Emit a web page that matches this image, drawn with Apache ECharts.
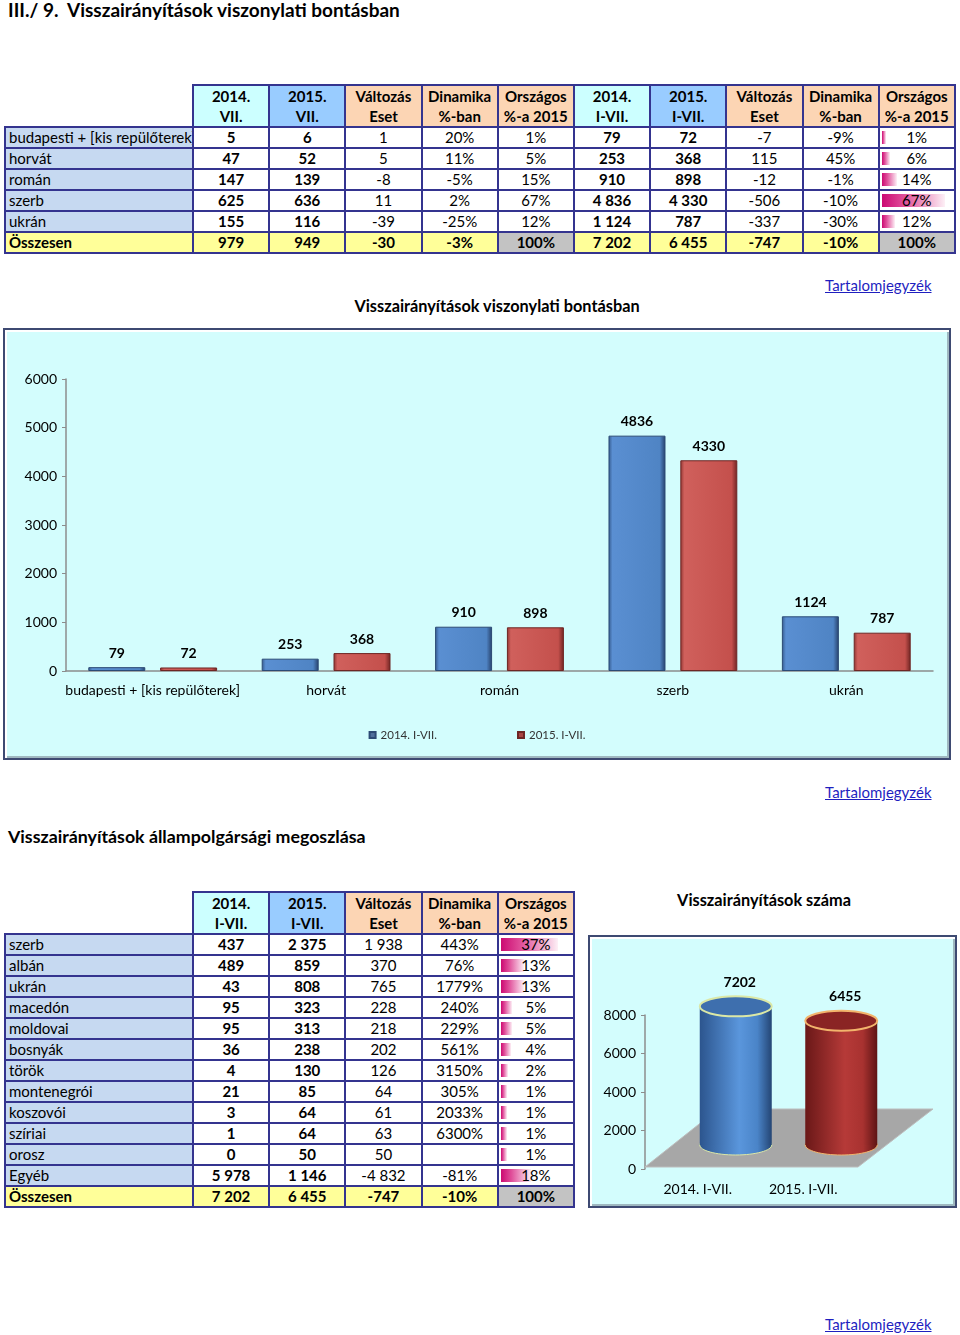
<!DOCTYPE html>
<html><head><meta charset="utf-8">
<script src="https://cdn.jsdelivr.net/npm/echarts@6/dist/echarts.min.js"></script>
<style>
html,body{margin:0;padding:0;background:#fff;}
body{width:960px;height:1335px;position:relative;overflow:hidden;font-family:Lato,"Open Sans",sans-serif;color:#000;}
.abs{position:absolute;}
.h1{left:8px;top:-2px;font-weight:bold;font-size:19px;white-space:nowrap;}
.h2{left:8px;top:825px;font-weight:bold;font-size:17.8px;white-space:nowrap;}
.ctitle{font-weight:bold;font-size:16.3px;white-space:nowrap;transform:translateX(-50%);}
.link{color:#1f1fbf;text-decoration:underline;font-size:15px;white-space:nowrap;}
table{border-collapse:collapse;table-layout:fixed;font-size:15px;}
td{border:2px solid #34348f;padding:0 3px;height:19px;line-height:19px;text-align:center;white-space:nowrap;overflow:hidden;position:relative;}
td.lab{text-align:left;background:#c6d9f1;}
td.hb{border:none;background:#fff;}
tr.hdr td{height:40px;line-height:20px;font-weight:bold;}
td.b{font-weight:bold;}
tr.tot td{font-weight:bold;background:#ffff99;}
tr.tot td.lab{background:#ffff99;}
tr.tot td.grey{background:#c3c3c3;}
.dbar{position:absolute;left:2px;top:3px;bottom:3px;}
.dtxt{position:relative;}
.box{border:2px solid #3e4a72;background:#d3fdfd;box-shadow:inset 2px 2px 0 #ffffff, inset -2px -2px 0 #9fb8c0;}
</style></head>
<body>
<div class="abs h1">III./ 9.&nbsp; Visszairányítások viszonylati bontásban</div>
<div class="abs" id="t1" style="left:4px;top:84px;"></div>
<div class="abs link" style="left:825px;top:276px;">Tartalomjegyzék</div>
<div class="abs ctitle" style="left:497px;top:296px;">Visszairányítások viszonylati bontásban</div>
<div class="abs box" style="left:3px;top:328px;width:944px;height:428px;"><div id="c1" style="width:944px;height:428px;"></div></div>
<div class="abs link" style="left:825px;top:783px;">Tartalomjegyzék</div>
<div class="abs h2">Visszairányítások állampolgársági megoszlása</div>
<div class="abs" id="t2" style="left:4px;top:891px;"></div>
<div class="abs ctitle" style="left:764px;top:890px;">Visszairányítások száma</div>
<div class="abs box" style="left:588px;top:935px;width:365px;height:269px;"><div id="c2" style="width:365px;height:269px;"></div></div>
<div class="abs link" style="left:825px;top:1315px;">Tartalomjegyzék</div>
<script>
// ---------- DATA: table 1 ----------
const regions = ['budapesti + [kis repülőterek]', 'horvát', 'román', 'szerb', 'ukrán'];
const jul2014 = [5, 47, 147, 625, 155];
const jul2015 = [6, 52, 139, 636, 116];
const julChange = [1, 5, -8, 11, -39];
const julDyn = [20, 11, -5, 2, -25];
const julShare = [1, 5, 15, 67, 12];
const ytd2014 = [79, 253, 910, 4836, 1124];
const ytd2015 = [72, 368, 898, 4330, 787];
const ytdChange = [-7, 115, -12, -506, -337];
const ytdDyn = [-9, 45, -1, -10, -30];
const ytdShare = [1, 6, 14, 67, 12];
const totals1 = { jul2014: 979, jul2015: 949, julChange: -30, julDyn: -3, julShare: 100,
                  ytd2014: 7202, ytd2015: 6455, ytdChange: -747, ytdDyn: -10, ytdShare: 100 };
const header1 = ['2014.<br>VII.', '2015.<br>VII.', 'Változás<br>Eset', 'Dinamika<br>%-ban', 'Országos<br>%-a 2015',
                 '2014.<br>I-VII.', '2015.<br>I-VII.', 'Változás<br>Eset', 'Dinamika<br>%-ban', 'Országos<br>%-a 2015'];
// ---------- DATA: table 2 ----------
const nations = ['szerb', 'albán', 'ukrán', 'macedón', 'moldovai', 'bosnyák', 'török', 'montenegrói', 'koszovói', 'szíriai', 'orosz', 'Egyéb'];
const nat2014 = [437, 489, 43, 95, 95, 36, 4, 21, 3, 1, 0, 5978];
const nat2015 = [2375, 859, 808, 323, 313, 238, 130, 85, 64, 64, 50, 1146];
const natChange = [1938, 370, 765, 228, 218, 202, 126, 64, 61, 63, 50, -4832];
const natDyn = [443, 76, 1779, 240, 229, 561, 3150, 305, 2033, 6300, null, -81];
const natShare = [37, 13, 13, 5, 5, 4, 2, 1, 1, 1, 1, 18];
const totals2 = { nat2014: 7202, nat2015: 6455, natChange: -747, natDyn: -10, natShare: 100 };
const header2 = ['2014.<br>I-VII.', '2015.<br>I-VII.', 'Változás<br>Eset', 'Dinamika<br>%-ban', 'Országos<br>%-a 2015'];
// ---------- DATA: charts ----------
const chart1Series = ['2014. I-VII.', '2015. I-VII.'];
const chart2Categories = ['2014. I-VII.', '2015. I-VII.'];
const chart2Values = [7202, 6455];
const yTicks1 = [0, 1000, 2000, 3000, 4000, 5000, 6000];
const yTicks2 = [0, 2000, 4000, 6000, 8000];

// ---------- helpers ----------
function fmt(n) {
  if (n === null || n === undefined) return '';
  const s = Math.abs(n).toString().replace(/\B(?=(\d{3})+(?!\d))/g, '\u00a0');
  return (n < 0 ? '-' : '') + s;
}
function pct(n) { return n === null || n === undefined ? '' : n + '%'; }
const HC = { c: '#ccffff', b: '#99ccff', p: '#fcd5b4' };

function buildTable(el, labelW, colW, labels, header, headBg, cols, totalLabel) {
  let h = '<table style="width:' + (labelW + colW * cols.length) + 'px"><colgroup><col style="width:' + labelW + 'px">';
  cols.forEach(() => h += '<col style="width:' + colW + 'px">');
  h += '</colgroup><tr class="hdr"><td class="hb"></td>';
  header.forEach((t, i) => h += '<td style="background:' + headBg[i] + '">' + t + '</td>');
  h += '</tr>';
  labels.forEach((lab, r) => {
    h += '<tr><td class="lab">' + lab + '</td>';
    cols.forEach(c => {
      const v = c.vals[r];
      const txt = c.pct ? pct(v) : fmt(v);
      if (c.bar) {
        const mn = Math.min(...c.vals), mx = Math.max(...c.vals);
        const L = c.minL + (v - mn) / (mx - mn) * (c.maxL - c.minL);
        h += '<td><div class="dbar" style="width:' + L.toFixed(1) + 'px;background:linear-gradient(to right,#cc0a72 0%,#e04f9a 35%,#f6c9e0 85%,#fdf0f6 100%)"></div><span class="dtxt">' + txt + '</span></td>';
      } else {
        h += '<td' + (c.bold ? ' class="b"' : '') + '>' + txt + '</td>';
      }
    });
    h += '</tr>';
  });
  h += '<tr class="tot"><td class="lab">' + totalLabel + '</td>';
  cols.forEach(c => {
    h += '<td' + (c.grey ? ' class="grey"' : '') + '>' + (c.pct ? pct(c.total) : fmt(c.total)) + '</td>';
  });
  h += '</tr></table>';
  document.getElementById(el).innerHTML = h;
}

buildTable('t1', 188, 76.2, regions, header1,
  [HC.c, HC.b, HC.p, HC.p, HC.p, HC.c, HC.b, HC.p, HC.p, HC.p],
  [
    { vals: jul2014, total: totals1.jul2014, bold: true },
    { vals: jul2015, total: totals1.jul2015, bold: true },
    { vals: julChange, total: totals1.julChange },
    { vals: julDyn, total: totals1.julDyn, pct: true },
    { vals: julShare, total: totals1.julShare, pct: true, grey: true },
    { vals: ytd2014, total: totals1.ytd2014, bold: true },
    { vals: ytd2015, total: totals1.ytd2015, bold: true },
    { vals: ytdChange, total: totals1.ytdChange },
    { vals: ytdDyn, total: totals1.ytdDyn, pct: true },
    { vals: ytdShare, total: totals1.ytdShare, pct: true, grey: true, bar: true, minL: 4, maxL: 63 }
  ], 'Összesen');

buildTable('t2', 188, 76.2, nations, header2,
  [HC.c, HC.b, HC.p, HC.p, HC.p],
  [
    { vals: nat2014, total: totals2.nat2014, bold: true },
    { vals: nat2015, total: totals2.nat2015, bold: true },
    { vals: natChange, total: totals2.natChange },
    { vals: natDyn, total: totals2.natDyn, pct: true },
    { vals: natShare, total: totals2.natShare, pct: true, grey: true, bar: true, minL: 6, maxL: 57 }
  ], 'Összesen');

// ---------- chart 1 ----------
const FONT = 'Lato';
const plain = v => String(v);
const c1 = echarts.init(document.getElementById('c1'), null, { renderer: 'canvas' });
function grad(stops) { return new echarts.graphic.LinearGradient(0, 0, 1, 0, stops); }
const blueG = grad([{ offset: 0, color: '#34598c' }, { offset: 0.07, color: '#5a8fd2' }, { offset: 0.9, color: '#4f84c4' }, { offset: 1, color: '#26406a' }]);
const redG = grad([{ offset: 0, color: '#8e3431' }, { offset: 0.07, color: '#d0605c' }, { offset: 0.9, color: '#c4504c' }, { offset: 1, color: '#6e2422' }]);
c1.setOption({
  animation: false,
  textStyle: { fontFamily: FONT },
  grid: { left: 61, right: 16, top: 49, bottom: 87 },
  legend: {
    bottom: 12, left: 'center', itemWidth: 6, itemHeight: 6, itemGap: 80, icon: 'rect',
    textStyle: { fontSize: 11.5, color: '#333', fontFamily: FONT },
    data: [ { name: chart1Series[0], itemStyle: { color: '#4f6f9c' } }, { name: chart1Series[1], itemStyle: { color: '#a84442' } } ]
  },
  xAxis: {
    type: 'category', data: regions,
    axisLine: { lineStyle: { color: '#8c8c8c', width: 1.5 } },
    axisTick: { show: false },
    axisLabel: { fontSize: 14, color: '#000', margin: 12, interval: 0 }
  },
  yAxis: {
    type: 'value', min: yTicks1[0], max: yTicks1[yTicks1.length - 1], interval: 1000,
    axisLine: { show: true, lineStyle: { color: '#8c8c8c', width: 1.5 } },
    axisTick: { show: true, length: 4, lineStyle: { color: '#8c8c8c' } },
    splitLine: { show: false },
    axisLabel: { fontSize: 14, color: '#000', margin: 9, formatter: plain }
  },
  series: [
    { name: chart1Series[0], type: 'bar', data: ytd2014, barWidth: 57, barGap: '26%',
      itemStyle: { color: blueG, borderColor: '#2c4a75', borderWidth: 1 },
      label: { show: true, position: 'top', distance: 7, fontWeight: 'bold', fontSize: 14, color: '#000' } },
    { name: chart1Series[1], type: 'bar', data: ytd2015, barWidth: 57,
      itemStyle: { color: redG, borderColor: '#6e2624', borderWidth: 1 },
      label: { show: true, position: 'top', distance: 7, fontWeight: 'bold', fontSize: 14, color: '#000' } }
  ]
});

// ---------- chart 2 ----------
const c2 = echarts.init(document.getElementById('c2'), null, { renderer: 'canvas' });
const cylStyle = [
  { body: [{ offset: 0, color: '#2c558e' }, { offset: 0.55, color: '#5a96dc' }, { offset: 0.8, color: '#4a84c8' }, { offset: 1, color: '#244574' }], top: '#3e6fae', rim: '#dbe8a6' },
  { body: [{ offset: 0, color: '#6a1818' }, { offset: 0.55, color: '#b63a38' }, { offset: 0.8, color: '#a83230' }, { offset: 1, color: '#5e1414' }], top: '#8a2424', rim: '#f2b46c' }
];
c2.setOption({
  animation: false,
  textStyle: { fontFamily: FONT },
  grid: { left: 55, right: 99, top: 78, bottom: 37 },
  xAxis: {
    type: 'category', data: chart2Categories,
    axisLine: { show: false }, axisTick: { show: false },
    axisLabel: { fontSize: 14, color: '#000', margin: 13 }
  },
  yAxis: {
    type: 'value', min: yTicks2[0], max: yTicks2[yTicks2.length - 1], interval: 2000,
    axisLine: { show: true, lineStyle: { color: '#8c8c8c', width: 1.5 } },
    axisTick: { show: true, length: 4, lineStyle: { color: '#8c8c8c' } },
    splitLine: { show: false },
    axisLabel: { fontSize: 14, color: '#000', margin: 9, formatter: plain }
  },
  series: [
    { type: 'custom', silent: true, z: 1, data: [[0, 0]], encode: { x: 0, y: 1 },
      renderItem: function (params, api) {
        const cs = params.coordSys;
        const bx = cs.x, by = cs.y + cs.height;
        return { type: 'polygon', shape: { points: [[bx, by - 2], [bx + cs.width + 2, by - 2], [bx + cs.width + 77, by - 60], [bx + 73, by - 60]] },
                 style: { fill: '#a7a7a7', stroke: '#bdbdbd', lineWidth: 1 } };
      } },
    { type: 'custom', z: 2, data: chart2Values.map((v, i) => [i, v]), encode: { x: 0, y: 1 },
      renderItem: function (params, api) {
        const idx = api.value(0), v = api.value(1);
        const top = api.coord([idx, v]), base = api.coord([idx, 0]);
        const cx = top[0] + 38, ty = top[1] - 24, byy = base[1] - 24, rx = 36, ry = 10;
        const st = cylStyle[idx];
        const g = new echarts.graphic.LinearGradient(0, 0, 1, 0, st.body);
        return { type: 'group', children: [
          { type: 'ellipse', shape: { cx: cx, cy: byy, rx: rx, ry: ry }, style: { fill: g, stroke: st.rim, lineWidth: 1, opacity: 1 } },
          { type: 'rect', shape: { x: cx - rx, y: ty, width: rx * 2, height: byy - ty }, style: { fill: g } },
          { type: 'ellipse', shape: { cx: cx, cy: ty, rx: rx, ry: ry }, style: { fill: st.top, stroke: st.rim, lineWidth: 2 } },
          { type: 'text', style: { text: String(v), x: cx + 4, y: ty - ry - 7, align: 'center', verticalAlign: 'bottom', font: 'bold 14px ' + FONT, fill: '#000' } }
        ] };
      } }
  ]
});
</script>
</body></html>
